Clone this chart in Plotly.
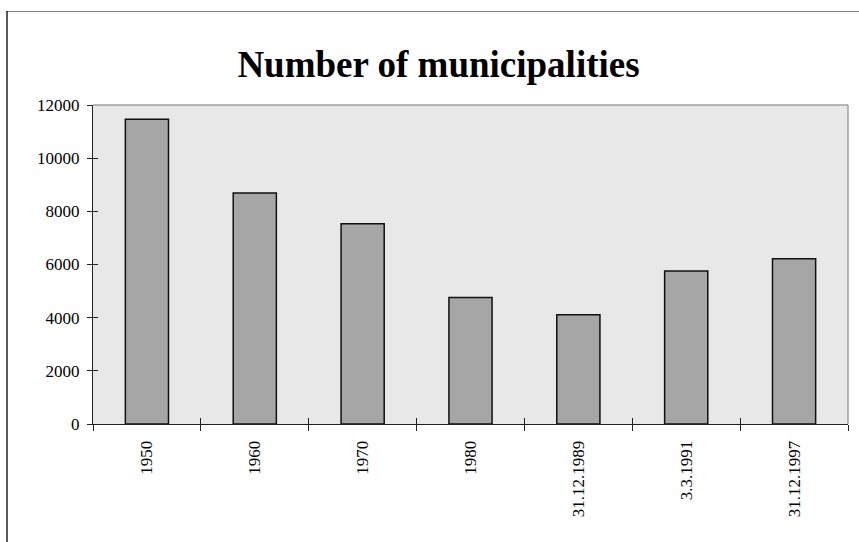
import plotly.graph_objects as go

categories = ["1950", "1960", "1970", "1980", "31.12.1989", "3.3.1991", "31.12.1997"]
municipalities = [11460, 8690, 7530, 4760, 4110, 5760, 6220]
y_ticks = [0, 2000, 4000, 6000, 8000, 10000, 12000]
y_tick_labels = ["0", "2000", "4000", "6000", "8000", "10000", "12000"]
title_text = "Number of municipalities"

FONT = "Liberation Serif, Times New Roman, Times, serif"

fig = go.Figure()
fig.add_trace(go.Bar(
    x=categories, y=municipalities,
    marker=dict(color="#A6A6A6", line=dict(color="#111111", width=1.5)),
    hoverinfo="skip", showlegend=False,
))
# invisible companion trace to carry inside ticks (cross-style ticks)
fig.add_trace(go.Bar(
    x=categories, y=municipalities, xaxis="x2", yaxis="y2",
    marker=dict(color="rgba(0,0,0,0)", line=dict(width=0)),
    hoverinfo="skip", showlegend=False,
))

W, H = 859, 542
L, R, T, B = 93, 11, 105, 118

fig.update_layout(
    width=W, height=H,
    margin=dict(l=L, r=R, t=T, b=B, pad=0),
    paper_bgcolor="white",
    plot_bgcolor="#E8E8E8",
    bargap=0.6,
    font=dict(family=FONT, size=17, color="black"),
    title=dict(text="<b>" + title_text + "</b>", x=438.5 / W, xref="container", xanchor="center",
               y=1 - 64 / H, yref="container", yanchor="middle",
               font=dict(family=FONT, size=37, color="black")),
    xaxis=dict(type="category", categoryorder="array", categoryarray=categories,
               showline=True, linecolor="#222222", linewidth=1,
               ticks="outside", ticklen=6, tickcolor="#222222", tickwidth=1,
               tickson="boundaries", tickangle=-90, showgrid=False, zeroline=False,
               ticklabelstandoff=9,
               tickfont=dict(family=FONT, size=17, color="black")),
    xaxis2=dict(type="category", categoryorder="array", categoryarray=categories,
                overlaying="x", side="bottom", showline=False,
                ticks="inside", ticklen=6, tickcolor="#222222", tickwidth=1,
                tickson="boundaries", showticklabels=False, showgrid=False, zeroline=False),
    yaxis=dict(range=[0, 12000], tickmode="array", tickvals=y_ticks, ticktext=y_tick_labels,
               showline=True, linecolor="#222222", linewidth=1,
               ticks="outside", ticklen=5, tickcolor="#222222", tickwidth=1,
               showgrid=False, zeroline=False, ticklabelstandoff=4,
               tickfont=dict(family=FONT, size=17, color="black")),
    yaxis2=dict(range=[0, 12000], tickmode="array", tickvals=y_ticks, overlaying="y", side="left",
                ticks="inside", ticklen=5, tickcolor="#222222", tickwidth=1,
                showticklabels=False, showgrid=False, zeroline=False, showline=False),
    shapes=[
        dict(type="line", xref="paper", yref="paper", x0=0, x1=1, y0=1, y1=1,
             line=dict(color="#A0A0A0", width=1.5), layer="below"),
        dict(type="line", xref="paper", yref="paper", x0=1, x1=1, y0=0, y1=1,
             line=dict(color="#A0A0A0", width=1.5), layer="below"),
    ],
)

pw = W - L - R
ph = H - T - B
def px_x(px):
    return (px - L) / pw
def px_y(py):
    return (H - B - py) / ph

fig.add_shape(type="line", xref="paper", yref="paper",
              x0=px_x(6), x1=px_x(870), y0=px_y(11.5), y1=px_y(11.5),
              line=dict(color="#808080", width=1.2))
fig.add_shape(type="line", xref="paper", yref="paper",
              x0=px_x(7), x1=px_x(7), y0=px_y(11), y1=px_y(560),
              line=dict(color="#222222", width=1.5))

fig.write_html("out.html")
